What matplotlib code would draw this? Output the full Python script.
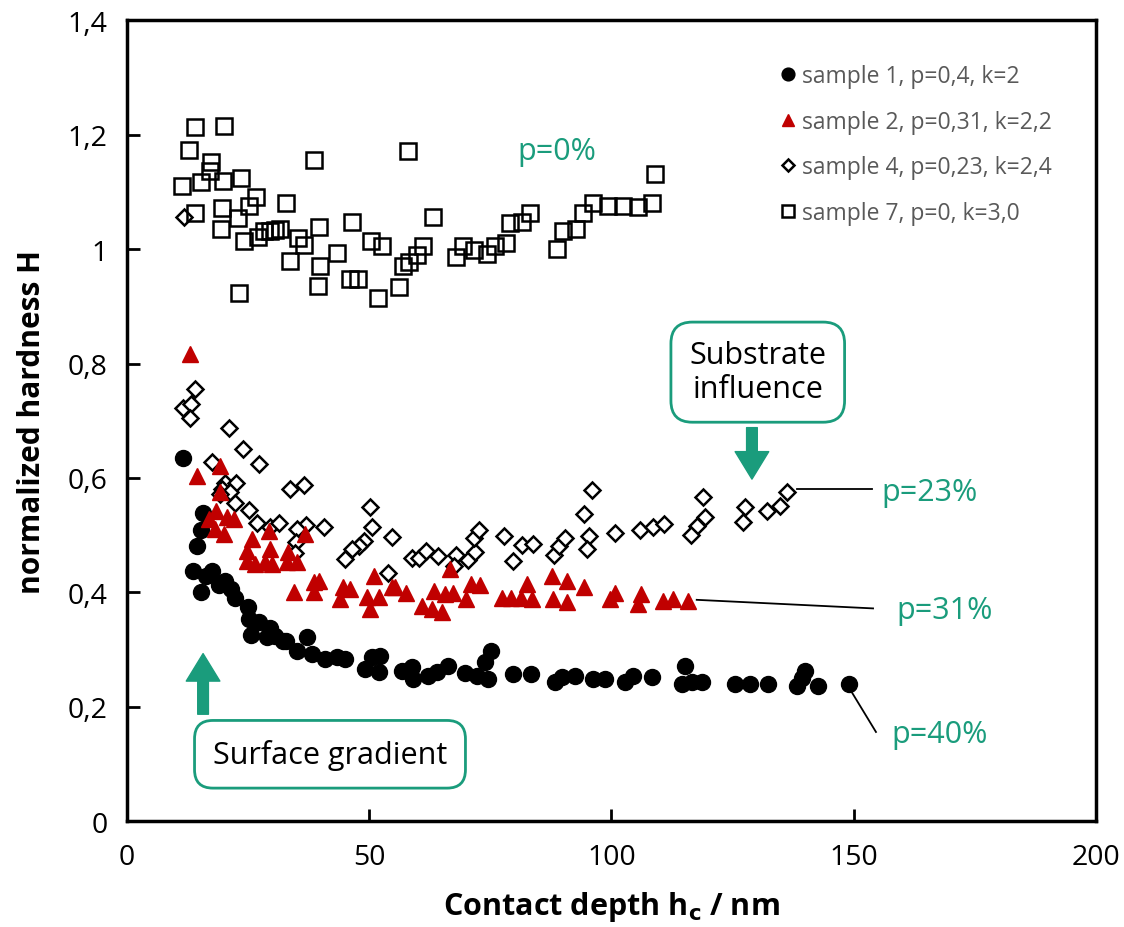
import numpy as np
import matplotlib
matplotlib.use("Agg")
from matplotlib import pyplot as plt

plt.rcParams['font.family'] = ['Open Sans', 'DejaVu Sans']

# sample 1, p=0,4, k=2 (filled circles)
s1_x = [11.5, 15.7, 15.3, 14.5, 13.6, 16.3, 17.6, 15.3, 19.0, 20.2, 21.4, 22.2, 25.0, 25.2,
        27.2, 25.6, 29.5, 28.9, 30.5, 32.1, 32.9, 37.1, 35.1, 38.2, 40.8, 43.4, 45.0, 49.1,
        50.5, 52.1, 52.3, 56.7, 58.8, 59.0, 62.2, 64.0, 66.2, 69.8, 72.3, 73.9, 75.1, 74.5,
        79.7, 83.4, 88.4, 89.8, 92.5, 96.1, 98.7, 102.8, 104.4, 108.4, 115.1, 114.5, 116.7,
        118.7, 125.5, 128.6, 132.3, 139.9, 138.3, 139.3, 142.6, 149.0]
s1_y = [0.635, 0.539, 0.509, 0.481, 0.438, 0.429, 0.438, 0.401, 0.413, 0.420, 0.406, 0.390,
        0.375, 0.354, 0.348, 0.326, 0.338, 0.322, 0.324, 0.315, 0.315, 0.322, 0.298, 0.292,
        0.283, 0.287, 0.283, 0.266, 0.287, 0.261, 0.289, 0.263, 0.270, 0.249, 0.254, 0.261,
        0.271, 0.259, 0.254, 0.278, 0.298, 0.249, 0.257, 0.257, 0.243, 0.252, 0.254, 0.249,
        0.249, 0.243, 0.254, 0.252, 0.271, 0.240, 0.243, 0.243, 0.240, 0.240, 0.240, 0.263,
        0.236, 0.250, 0.236, 0.240]

# sample 2, p=0,31, k=2,2 (red triangles)
s2_x = [13.0, 14.5, 19.2, 19.2, 18.4, 16.9, 20.6, 22.0, 18.2, 20.0, 25.8, 24.8, 24.8, 26.4,
        29.3, 29.5, 28.5, 29.9, 33.3, 33.1, 35.1, 36.7, 34.5, 38.6, 39.6, 38.6, 44.6, 46.0,
        44.0, 50.9, 49.5, 50.1, 52.1, 54.7, 55.3, 57.6, 60.9, 63.0, 65.0, 63.4, 65.6, 67.3,
        66.6, 70.0, 71.0, 72.9, 77.4, 79.3, 81.3, 82.6, 83.6, 87.7, 87.9, 90.8, 90.8, 94.3,
        99.7, 100.7, 105.4, 106.0, 110.6, 112.7, 115.7]
s2_y = [0.817, 0.604, 0.621, 0.576, 0.543, 0.529, 0.532, 0.529, 0.511, 0.502, 0.494, 0.473,
        0.455, 0.450, 0.508, 0.476, 0.453, 0.450, 0.471, 0.453, 0.453, 0.502, 0.401, 0.418,
        0.420, 0.401, 0.409, 0.406, 0.389, 0.429, 0.392, 0.371, 0.392, 0.410, 0.410, 0.399,
        0.376, 0.371, 0.366, 0.403, 0.397, 0.399, 0.441, 0.389, 0.415, 0.413, 0.390, 0.390,
        0.390, 0.415, 0.389, 0.429, 0.389, 0.420, 0.383, 0.410, 0.389, 0.399, 0.380, 0.397,
        0.385, 0.389, 0.385]

# sample 4, p=0,23, k=2,4 (open diamonds)
s4_x = [11.7, 14.0, 11.5, 13.2, 13.0, 21.0, 24.0, 17.6, 27.2, 20.2, 22.5, 19.6, 21.2, 19.2,
        22.2, 25.2, 33.7, 36.5, 26.8, 29.5, 31.3, 36.9, 40.6, 35.1, 34.9, 34.6, 50.2, 50.5,
        49.0, 47.9, 46.4, 45.0, 54.7, 53.9, 58.8, 60.2, 61.7, 64.2, 67.9, 67.5, 70.4, 71.9,
        71.6, 72.7, 77.8, 79.7, 81.5, 83.8, 88.1, 89.2, 90.4, 94.3, 95.9, 95.3, 94.9, 100.7,
        105.8, 108.6, 110.8, 118.9, 119.3, 117.7, 116.5, 127.6, 127.2, 132.1, 134.8, 136.3]
s4_y = [1.057, 0.756, 0.723, 0.730, 0.704, 0.688, 0.651, 0.628, 0.625, 0.592, 0.592, 0.581,
        0.576, 0.572, 0.557, 0.544, 0.581, 0.588, 0.522, 0.514, 0.521, 0.518, 0.514, 0.511,
        0.488, 0.469, 0.549, 0.514, 0.490, 0.481, 0.476, 0.458, 0.497, 0.434, 0.460, 0.460,
        0.473, 0.464, 0.466, 0.446, 0.457, 0.471, 0.495, 0.509, 0.499, 0.455, 0.483, 0.485,
        0.466, 0.481, 0.495, 0.537, 0.579, 0.499, 0.476, 0.504, 0.509, 0.514, 0.520, 0.567,
        0.532, 0.516, 0.501, 0.550, 0.523, 0.543, 0.551, 0.576]

# sample 7, p=0, k=3,0 (open squares)
s7_x = [14.0, 20.0, 12.8, 17.4, 17.1, 11.3, 15.3, 19.8, 23.6, 38.6, 26.6, 25.2, 32.9, 14.1,
        19.6, 22.9, 19.4, 24.2, 27.0, 28.3, 29.5, 30.5, 31.5, 35.3, 36.5, 39.6, 33.7, 39.8,
        39.4, 23.1, 43.4, 46.4, 46.0, 47.7, 50.3, 52.6, 51.8, 58.0, 63.2, 56.1, 56.9, 58.2,
        59.8, 61.1, 67.9, 69.3, 71.6, 74.3, 75.9, 78.2, 79.1, 81.5, 83.2, 88.8, 90.0, 92.7,
        94.1, 96.1, 99.3, 102.4, 105.4, 108.4, 109.0]
s7_y = [1.213, 1.216, 1.174, 1.153, 1.136, 1.110, 1.118, 1.120, 1.125, 1.155, 1.092, 1.076,
        1.081, 1.064, 1.072, 1.055, 1.036, 1.015, 1.022, 1.031, 1.031, 1.033, 1.036, 1.019,
        1.008, 1.038, 0.980, 0.971, 0.936, 0.924, 0.994, 1.048, 0.947, 0.947, 1.015, 1.005,
        0.915, 1.171, 1.057, 0.933, 0.970, 0.978, 0.990, 1.005, 0.987, 1.006, 0.998, 0.992,
        1.005, 1.010, 1.045, 1.048, 1.064, 1.001, 1.031, 1.036, 1.064, 1.080, 1.076, 1.076,
        1.074, 1.081, 1.132]

labels = ['sample 1, p=0,4, k=2', 'sample 2, p=0,31, k=2,2',
          'sample 4, p=0,23, k=2,4', 'sample 7, p=0, k=3,0']
xticks = [0, 50, 100, 150, 200]
yticks = [0, 0.2, 0.4, 0.6, 0.8, 1.0, 1.2, 1.4]
yticklabels = ['0', '0,2', '0,4', '0,6', '0,8', '1', '1,2', '1,4']

green = '#1a9c7c'

fig = plt.figure(figsize=(11.24, 9.28), dpi=100)
ax = fig.add_axes([0.113, 0.114, 0.862, 0.863])

ax.plot(s1_x, s1_y, 'o', color='black', ms=11.5, label=labels[0], zorder=3)
ax.plot(s2_x, s2_y, '^', color='#c00000', ms=11.5, label=labels[1], zorder=3)
ax.plot(s4_x, s4_y, 'D', mfc='white', mec='black', mew=1.8, ms=8, label=labels[2], zorder=2)
ax.plot(s7_x, s7_y, 's', mfc='none', mec='black', mew=1.8, ms=11, label=labels[3], zorder=2)

ax.set_xlim(0, 200)
ax.set_ylim(0, 1.4)
ax.set_xticks(xticks)
ax.set_yticks(yticks)
ax.set_yticklabels(yticklabels)
ax.tick_params(direction='in', length=9, width=2, labelsize=20.5)
ax.tick_params(axis='y', pad=14)
ax.tick_params(axis='x', pad=16)
for s in ax.spines.values():
    s.set_linewidth(2.5)

ax.set_xlabel('Contact depth h$_\\mathbf{c}$ / nm', fontsize=22, fontweight='bold', labelpad=13)
ax.set_ylabel('normalized hardness H', fontsize=21.5, fontweight='bold', labelpad=15)

leg = ax.legend(loc='upper right', frameon=False, fontsize=16.5, handletextpad=0.05,
                labelspacing=0.95, borderaxespad=1.5, markerscale=0.8, handlelength=1.2)
for t in leg.get_texts():
    t.set_color('#595959')

# annotations
ax.text(88.7, 1.172, 'p=0%', color=green, fontsize=22, ha='center', va='center')
ax.text(165.7, 0.576, 'p=23%', color=green, fontsize=22, ha='center', va='center')
ax.text(168.8, 0.370, 'p=31%', color=green, fontsize=22, ha='center', va='center')
ax.text(167.8, 0.152, 'p=40%', color=green, fontsize=22, ha='center', va='center')
ax.plot([138.3, 153.8], [0.580, 0.580], color='black', lw=1.3)
ax.plot([117.6, 154.0], [0.387, 0.372], color='black', lw=1.3)
ax.plot([149.0, 154.6], [0.234, 0.156], color='black', lw=1.3)

ax.text(130.2, 0.785, 'Substrate\ninfluence', fontsize=22, ha='center', va='center',
        linespacing=1.15, zorder=5,
        bbox=dict(boxstyle='round,pad=0.6,rounding_size=0.7', fc='white', ec=green, lw=2))
ax.text(41.9, 0.117, 'Surface gradient', fontsize=22, ha='center', va='center', zorder=5,
        bbox=dict(boxstyle='round,pad=0.6,rounding_size=0.6', fc='white', ec=green, lw=2))

arrow_style = 'simple,head_width=1.1,head_length=0.9,tail_width=0.35'
ax.annotate('', xy=(129.0, 0.598), xytext=(129.0, 0.688),
            arrowprops=dict(arrowstyle=arrow_style, mutation_scale=22, fc=green, ec=green,
                            shrinkA=0, shrinkB=0))
ax.annotate('', xy=(15.7, 0.293), xytext=(15.7, 0.187),
            arrowprops=dict(arrowstyle=arrow_style, mutation_scale=22, fc=green, ec=green,
                            shrinkA=0, shrinkB=0))

plt.savefig('out.png', dpi=100)
